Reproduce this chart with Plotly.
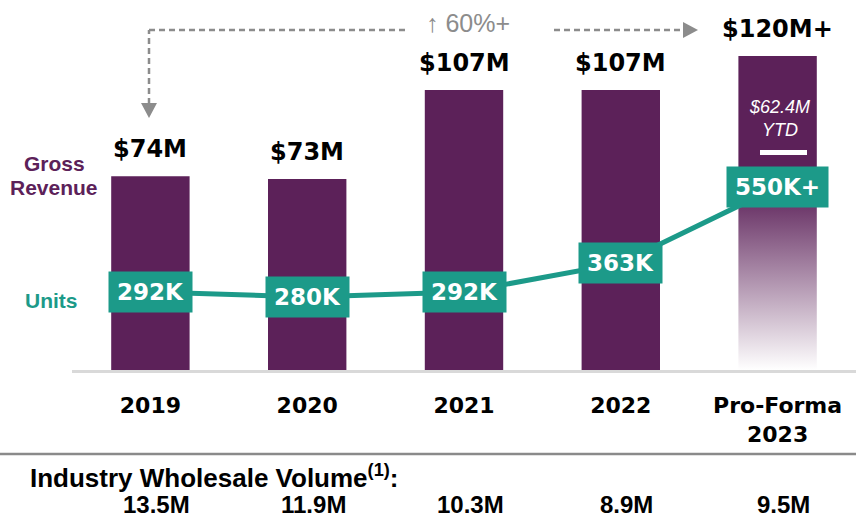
import plotly.graph_objects as go

# ---- data ----
categories = ["2019", "2020", "2021", "2022", "Pro-Forma<br>2023"]
revenue_musd = [74, 73, 107, 107, 120]          # gross revenue, $M
revenue_suffix = ["", "", "", "", "+"]
units_k = [292, 280, 292, 363, 550]             # units sold, thousands
units_suffix = ["", "", "", "", "+"]
industry_volume = ["13.5M", "11.9M", "10.3M", "8.9M", "9.5M"]
ytd_note = "$62.4M<br>YTD"
growth_note = "\u2191 60%+"

# ---- style ----
PURPLE = "#5C2159"
TEAL = "#1C9A89"
GRAY = "#8C8C8C"
BOLD_FONT = "DejaVu Sans"
TEXT_FONT = "Liberation Sans"

W, H = 856, 517
PL, PR, PT, PB = 72, 856, 10, 370      # plot area in pixels


def px_x(px):
    return (px - PL) / (PR - PL)


def px_y(py):
    return (PB - py) / (PB - PT)


x = list(range(len(categories)))
n_solid = len(categories) - 1

fig = go.Figure()

# solid revenue bars
fig.add_trace(go.Bar(
    x=x[:n_solid], y=revenue_musd[:n_solid], width=0.5,
    marker=dict(color=PURPLE, line=dict(width=0)),
    hoverinfo="skip",
))

# pro-forma bar, fading out toward the baseline
xl, xr = x[-1] - 0.25, x[-1] + 0.25
top = revenue_musd[-1]
fig.add_trace(go.Scatter(
    x=[xl, xr, xr, xl, xl], y=[0, 0, top, top, 0],
    mode="none", fill="toself",
    fillgradient=dict(type="vertical",
                      colorscale=[[0, "rgba(255,255,255,1)"], [1, PURPLE]],
                      start=0, stop=70),
    hoverinfo="skip",
))

# units line on the secondary axis
fig.add_trace(go.Scatter(
    x=x, y=units_k, yaxis="y2", mode="lines",
    line=dict(color=TEAL, width=5), hoverinfo="skip",
))

annotations = []


def note(**kw):
    base = dict(showarrow=False, xanchor="center", yanchor="middle")
    base.update(kw)
    annotations.append(base)


# revenue labels above bars
for xi, v, s in zip(x, revenue_musd, revenue_suffix):
    note(x=xi, y=v, xref="x", yref="y", text=f"${v}M{s}", yshift=27,
         font=dict(family=BOLD_FONT, size=24, color="#000000", weight="bold"))

# units labels in teal boxes
for xi, u, s in zip(x, units_k, units_suffix):
    note(x=xi, y=u, xref="x", yref="y2", text=f"{u}K{s}",
         bgcolor=TEAL, borderpad=8, height=24, valign="middle",
         font=dict(family=BOLD_FONT, size=23, color="#FFFFFF", weight="bold"))

# YTD note inside the pro-forma bar
note(x=x[-1], xshift=2, y=px_y(118), xref="x", yref="paper",
     text=f"<i>{ytd_note}</i>",
     font=dict(family=TEXT_FONT, size=18, color="#FFFFFF"))

# side labels
side_font = dict(family=TEXT_FONT, size=21, color=PURPLE, weight="bold")
note(x=px_x(54), y=px_y(163), xref="paper", yref="paper", text="Gross",
     font=side_font)
note(x=px_x(54), y=px_y(187), xref="paper", yref="paper", text="Revenue",
     font=side_font)
note(x=px_x(51), y=px_y(300), xref="paper", yref="paper", text="Units",
     font=dict(family=TEXT_FONT, size=21, color=TEAL, weight="bold"))

# growth note
note(x=px_x(468), y=px_y(23), xref="paper", yref="paper", text=growth_note,
     font=dict(family=TEXT_FONT, size=25, color=GRAY))

# industry volume row
note(x=px_x(28), y=px_y(476), xref="paper", yref="paper", xanchor="left",
     text="Industry Wholesale Volume<sup>(1)</sup>:",
     font=dict(family=TEXT_FONT, size=26, color="#000000", weight="bold"))
for xi, vol in zip(x, industry_volume):
    note(x=xi, y=px_y(504), xref="x", yref="paper", xshift=6, text=vol,
         height=24, valign="middle", borderpad=0,
         font=dict(family=TEXT_FONT, size=24, color="#000000", weight="bold"))

shapes = []
dash_line = dict(color=GRAY, width=2.5, dash="6px,4px")
# dashed growth connector
shapes.append(dict(type="line", xref="paper", yref="paper",
                   x0=px_x(149), y0=px_y(104), x1=px_x(149), y1=px_y(30),
                   line=dash_line))
shapes.append(dict(type="line", xref="paper", yref="paper",
                   x0=px_x(149), y0=px_y(30), x1=px_x(405), y1=px_y(30),
                   line=dash_line))
shapes.append(dict(type="line", xref="paper", yref="paper",
                   x0=px_x(554), y0=px_y(30), x1=px_x(684), y1=px_y(30),
                   line=dash_line))
# arrowheads
shapes.append(dict(type="path", xref="paper", yref="paper",
                   path=(f"M {px_x(141)} {px_y(103)} L {px_x(157)} {px_y(103)} "
                         f"L {px_x(149)} {px_y(118)} Z"),
                   fillcolor=GRAY, line=dict(width=0)))
shapes.append(dict(type="path", xref="paper", yref="paper",
                   path=(f"M {px_x(683)} {px_y(22)} L {px_x(683)} {px_y(38)} "
                         f"L {px_x(698)} {px_y(30)} Z"),
                   fillcolor=GRAY, line=dict(width=0)))
# white YTD marker
shapes.append(dict(type="rect", xref="paper", yref="paper",
                   x0=px_x(760), x1=px_x(807), y0=px_y(155), y1=px_y(150),
                   fillcolor="#FFFFFF", line=dict(width=0)))
# divider above the industry row
shapes.append(dict(type="line", xref="paper", yref="paper",
                   x0=px_x(0), x1=px_x(856), y0=px_y(454), y1=px_y(454),
                   line=dict(color="#8A8A8A", width=2.5)))

fig.update_layout(
    width=W, height=H, autosize=False,
    margin=dict(l=PL, r=W - PR, t=PT, b=H - PB, pad=0),
    paper_bgcolor="white", plot_bgcolor="white",
    showlegend=False,
    xaxis=dict(
        range=[-0.5, 4.5], tickvals=x, ticktext=categories,
        showgrid=False, zeroline=False,
        showline=True, linecolor="#D9D9D9", linewidth=2.5,
        ticks="", ticklabelstandoff=14,
        tickfont=dict(family=BOLD_FONT, size=22, color="#000000", weight="bold"),
        fixedrange=True,
    ),
    yaxis=dict(range=[0, (PB - PT) / 2.617], visible=False, fixedrange=True),
    yaxis2=dict(range=[100.4, 984.9], overlaying="y", visible=False,
                fixedrange=True),
    annotations=annotations,
    shapes=shapes,
)

fig.write_html("out.html")
